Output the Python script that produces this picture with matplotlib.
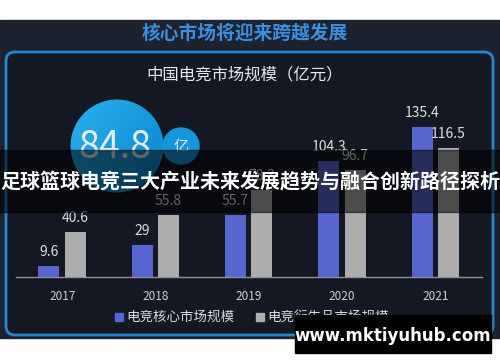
import matplotlib.pyplot as plt
import numpy as np
from matplotlib.patches import FancyBboxPatch, Circle, Rectangle

plt.rcParams['font.family'] = ['Noto Sans CJK SC', 'DejaVu Sans']

years = ['2017', '2018', '2019', '2020', '2021']
core = [9.6, 29, 55.7, 104.3, 135.4]
derived = [40.6, 55.8, 78.3, 96.7, 116.5]
series_names = ['电竞核心市场规模', '电竞衍生品市场规模']
big_number = '84.8'

blue = '#5767cf'
gray = '#adadad'

fig = plt.figure(figsize=(5, 3.62), dpi=100)
fig.patch.set_facecolor('white')

# background / decoration layer in pixel units
bg = fig.add_axes([0, 0, 1, 1])
bg.set_xlim(0, 500)
bg.set_ylim(362, 0)
bg.axis('off')
bg.add_patch(Rectangle((0, 20), 500, 318, color='#1c222e', zorder=0))
bg.add_patch(FancyBboxPatch((6, 52), 487, 283, boxstyle='round,pad=0,rounding_size=9',
                            facecolor='#131823', edgecolor='#2387cc', linewidth=2, zorder=1))
bg.text(245, 33, '核心市场将迎来跨越发展', color='#3b8fe0', fontsize=13.5,
        fontweight='bold', ha='center', va='center', zorder=2)
bg.text(245, 75, '中国电竞市场规模（亿元）', color='#e6e8ec', fontsize=11.8,
        ha='center', va='center', zorder=2)

# bubbles
grad = np.linspace(0, 1, 100)
gx, gy = np.meshgrid(grad, grad)
img = bg.imshow(0.6 * gx + 0.4 * gy, cmap=plt.matplotlib.colors.LinearSegmentedColormap.from_list(
    'b', ['#2cb0f0', '#0a86cc']), extent=(70, 164, 193, 99), zorder=2)
c1 = Circle((117, 146), 46.5, transform=bg.transData)
img.set_clip_path(c1)
bg.add_patch(Circle((181, 146), 18, color='#1596dc', zorder=2))
bg.text(115, 147, big_number, color='#e4eef6', fontsize=27, ha='center', va='center', zorder=3)
bg.text(181, 146, '亿', color='#e4eef6', fontsize=11, ha='center', va='center', zorder=3)

# bar chart
ax = fig.add_axes([16 / 500, (362 - 277) / 362, 466 / 500, 177.6 / 362])
ax.patch.set_alpha(0)
x = np.arange(len(years))
w = 0.225
b1 = ax.bar(x - 0.143, core, w, color=blue, zorder=3)
b2 = ax.bar(x + 0.14, derived, w, color=gray, zorder=3)
for bars, vals in ((b1, core), (b2, derived)):
    for r, v in zip(bars, vals):
        ax.annotate(f'{v:g}', (r.get_x() + r.get_width() / 2, v), xytext=(0, 5),
                    textcoords='offset points', ha='center', va='bottom',
                    color='#dcdfe4', fontsize=10)
ax.set_xlim(-0.495, 4.5)
ax.set_ylim(0, 160)
ax.set_xticks(x)
ax.set_xticklabels(years, color='#cdd1d8', fontsize=8.5)
ax.tick_params(axis='x', length=0, pad=9)
ax.set_yticks([])
for s in ['top', 'left', 'right']:
    ax.spines[s].set_visible(False)
ax.spines['bottom'].set_color('#8c9098')
ax.spines['bottom'].set_linewidth(1)

# legend
bg.add_patch(Rectangle((115, 313), 8, 8, color=blue, zorder=3))
bg.text(126, 317, series_names[0], color='#d8dbe0', fontsize=9.7, va='center', zorder=3)
bg.add_patch(Rectangle((256, 313), 8, 8, color=gray, zorder=3))
bg.text(267, 317, series_names[1], color='#d8dbe0', fontsize=9.7, va='center', zorder=3)

# overlays
ov = fig.add_axes([0, 0, 1, 1])
ov.set_xlim(0, 500)
ov.set_ylim(362, 0)
ov.axis('off')
ov.add_patch(Rectangle((0, 150), 500, 62, color='black', alpha=0.56))
ov.text(250, 182, '足球篮球电竞三大产业未来发展趋势与融合创新路径探析', color='white',
        fontsize=14.4, fontweight='bold', ha='center', va='center')
ov.add_patch(Rectangle((295, 315), 196, 38, color='black'))
ov.text(393, 336, 'www.mktiyuhub.com', color='white', fontsize=12,
        fontweight='bold', ha='center', va='center', family='DejaVu Sans')

fig.savefig('out.png', dpi=100)
